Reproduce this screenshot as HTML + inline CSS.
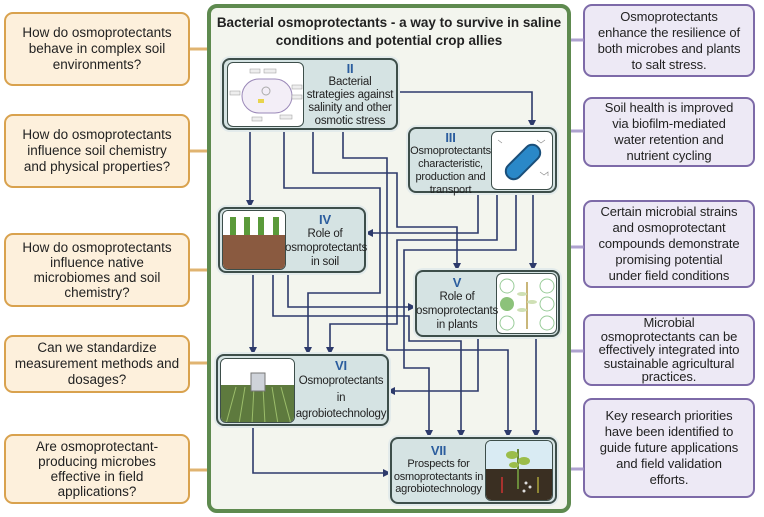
<!DOCTYPE html>
<html><head><meta charset="utf-8">
<style>
*{margin:0;padding:0;box-sizing:border-box}
body{width:764px;height:517px;background:#fff;position:relative;overflow:hidden;font-family:"Liberation Sans",Arial,sans-serif;color:#222}
.a{position:absolute}
.q{position:absolute;left:4px;width:186px;background:#fdf0dc;border:2.5px solid #d9a24e;border-radius:9px;display:flex;align-items:center;justify-content:center;text-align:center;font-size:13.5px;line-height:16px;white-space:nowrap}
.r{position:absolute;left:583px;width:172px;background:#ede9f5;border:2.5px solid #7d6aa8;border-radius:9px;display:flex;align-items:center;justify-content:center;text-align:center;font-size:13px;line-height:16px;white-space:nowrap;letter-spacing:-0.1px}
.frame{position:absolute;left:207px;top:4px;width:364px;height:509px;border:4px solid #5e8a4f;border-radius:10px;background:#f3f5ee}
.b{position:absolute;background:#d5e3e3;border:2.5px solid #3d4e4a;border-radius:8px;box-shadow:0 0 0 2px #e3ebeb}
.im{position:absolute;background:#fff;border:1.5px solid #3d4e4a;border-radius:6px;overflow:hidden}
.t{position:absolute;text-align:center;font-size:11.5px;line-height:13px;color:#222;letter-spacing:-0.2px;white-space:nowrap}
.t b{color:#2b5d9e;font-size:13px;display:block;line-height:15px}
</style></head><body>
<div class="q" style="top:12px;height:74px">How do osmoprotectants<br>behave in complex soil<br>environments?</div>
<div class="q" style="top:114px;height:74px">How do osmoprotectants<br>influence soil chemistry<br>and physical properties?</div>
<div class="q" style="top:233px;height:74px;line-height:15px">How do osmoprotectants<br>influence native<br>microbiomes and soil<br>chemistry?</div>
<div class="q" style="top:335px;height:58px">Can we standardize<br>measurement methods and<br>dosages?</div>
<div class="q" style="top:434px;height:70px;line-height:15px">Are osmoprotectant-<br>producing microbes<br>effective in field<br>applications?</div>

<div class="r" style="top:4px;height:73px">Osmoprotectants<br>enhance the resilience of<br>both microbes and plants<br>to salt stress.</div>
<div class="r" style="top:97px;height:70px">Soil health is improved<br>via biofilm-mediated<br>water retention and<br>nutrient cycling</div>
<div class="r" style="top:200px;height:88px">Certain microbial strains<br>and osmoprotectant<br>compounds demonstrate<br>promising potential<br>under field conditions</div>
<div class="r" style="top:314px;height:72px;line-height:13.5px">Microbial<br>osmoprotectants can be<br>effectively integrated into<br>sustainable agricultural<br>practices.</div>
<div class="r" style="top:398px;height:100px">Key research priorities<br>have been identified to<br>guide future applications<br>and field validation<br>efforts.</div>

<svg class="a" style="left:0;top:0" width="764" height="517">
<g stroke-width="3" opacity="0.8">
<line x1="190" y1="49" x2="209" y2="49" stroke="#d9a24e"/>
<line x1="190" y1="151" x2="209" y2="151" stroke="#d9a24e"/>
<line x1="190" y1="270" x2="209" y2="270" stroke="#d9a24e"/>
<line x1="190" y1="363" x2="209" y2="363" stroke="#d9a24e"/>
<line x1="190" y1="470" x2="209" y2="470" stroke="#d9a24e"/>
<line x1="569" y1="40" x2="584" y2="40" stroke="#9b8cc4"/>
<line x1="569" y1="131" x2="584" y2="131" stroke="#9b8cc4"/>
<line x1="569" y1="247" x2="584" y2="247" stroke="#9b8cc4"/>
<line x1="569" y1="351" x2="584" y2="351" stroke="#9b8cc4"/>
<line x1="569" y1="469" x2="584" y2="469" stroke="#9b8cc4"/>
</g></svg>

<div class="frame"></div>
<div class="a" style="left:211px;top:14px;width:356px;text-align:center;font-weight:bold;font-size:13.5px;line-height:18px">Bacterial osmoprotectants - a way to survive in saline<br>conditions and potential crop allies</div>

<svg class="a" style="left:0;top:0" width="764" height="517">
<defs><marker id="ar" markerWidth="8" markerHeight="8" refX="6" refY="4" orient="auto" markerUnits="userSpaceOnUse"><path d="M0,0 L8,4 L0,8 z" fill="#2d3a6b"/></marker></defs>
<g fill="none" stroke="#2d3a6b" stroke-width="1.6" marker-end="url(#ar)">
<path d="M397,92 H532 V126"/>
<path d="M250,130 V206"/>
<path d="M284,130 V188 H380 V293 H308 V353"/>
<path d="M313,130 V173 H397 V227 H457 V269"/>
<path d="M343,130 V158 H387 V350 H508 V436"/>
<path d="M478,193 V233 H367"/>
<path d="M497,193 V240 H397 V324 H330 V353"/>
<path d="M516,193 V250 H404 V368 H429 V436"/>
<path d="M533,193 V269"/>
<path d="M288,273 V307 H414"/>
<path d="M273,273 V316 H409 V341 H461 V436"/>
<path d="M253,273 V353"/>
<path d="M478,337 V391 H389"/>
<path d="M536,337 V436"/>
<path d="M253,426 V473 H389"/>
</g></svg>

<!-- II -->
<div class="b" style="left:222px;top:58px;width:176px;height:72px"></div>
<div class="im" style="left:227px;top:62px;width:77px;height:65px"><svg width="77" height="65"><rect x="14" y="16" width="50" height="34" rx="17" fill="#f3eef7" stroke="#9a88b8"/><circle cx="38" cy="28" r="4" fill="none" stroke="#aaa"/><rect x="30" y="36" width="6" height="4" fill="#e8d44d"/><g fill="#eee" stroke="#999" stroke-width=".5"><rect x="22" y="6" width="10" height="4"/><rect x="36" y="6" width="12" height="4"/><rect x="64" y="22" width="10" height="4"/><rect x="64" y="32" width="10" height="4"/><rect x="2" y="28" width="10" height="4"/><rect x="24" y="54" width="10" height="4"/><rect x="52" y="52" width="12" height="4"/></g></svg></div>
<div class="t" style="left:303px;top:61px;width:94px"><b>II</b>Bacterial<br>strategies against<br>salinity and other<br>osmotic stress</div>

<!-- III -->
<div class="b" style="left:408px;top:127px;width:149px;height:66px"></div>
<div class="im" style="left:491px;top:131px;width:62px;height:59px"><svg width="62" height="59"><g transform="rotate(-45 31 30)"><rect x="10" y="22" width="42" height="16" rx="8" fill="#2a88c8" stroke="#1a4f7a" stroke-width="2"/></g><g fill="none" stroke="#888" stroke-width=".6"><path d="M45,8 l4,3 l4,-3"/><path d="M48,40 l4,3 l4,-3 l0,4"/><path d="M6,8 l4,3"/></g></svg></div>
<div class="t" style="left:409px;top:130px;width:83px;font-size:11px"><b>III</b>Osmoprotectants<br>characteristic,<br>production and<br>transport</div>

<!-- IV -->
<div class="b" style="left:218px;top:207px;width:148px;height:66px"></div>
<div class="im" style="left:222px;top:210px;width:64px;height:60px"><svg width="64" height="60"><rect y="0" width="64" height="24" fill="#fff"/><rect y="24" width="64" height="36" fill="#8a5a40"/><g fill="#5a9a3a"><rect x="7" y="6" width="6" height="18"/><rect x="21" y="6" width="6" height="18"/><rect x="35" y="6" width="6" height="18"/><rect x="50" y="6" width="6" height="18"/></g></svg></div>
<div class="t" style="left:285px;top:212px;width:80px;line-height:14px"><b>IV</b>Role of<br>osmoprotectants<br>in soil</div>

<!-- V -->
<div class="b" style="left:415px;top:270px;width:145px;height:67px"></div>
<div class="im" style="left:496px;top:273px;width:61px;height:61px"><svg width="61" height="61"><g fill="none" stroke="#9c9" ><circle cx="10" cy="12" r="7"/><circle cx="50" cy="12" r="7"/><circle cx="50" cy="30" r="7"/><circle cx="50" cy="49" r="7"/><circle cx="10" cy="49" r="7"/></g><circle cx="10" cy="30" r="7" fill="#8cc27a"/><path d="M30,8 V55" stroke="#c9b77a" stroke-width="2"/><g fill="#cfe0b5"><ellipse cx="25" cy="20" rx="5" ry="2"/><ellipse cx="35" cy="28" rx="5" ry="2"/><ellipse cx="25" cy="36" rx="5" ry="2"/></g></svg></div>
<div class="t" style="left:416px;top:275px;width:82px;line-height:14px"><b>V</b>Role of<br>osmoprotectants<br>in plants</div>

<!-- VI -->
<div class="b" style="left:216px;top:354px;width:173px;height:72px"></div>
<div class="im" style="left:220px;top:358px;width:75px;height:65px"><svg width="75" height="65"><rect width="75" height="26" fill="#fff"/><rect y="26" width="75" height="39" fill="#5e7a3e"/><g stroke="#9bbd6a" stroke-width="1"><path d="M5,65 L15,28 M18,65 L24,28 M31,65 L33,28 M44,65 L42,28 M57,65 L51,28 M70,65 L60,28"/></g><rect x="30" y="14" width="14" height="18" fill="#cfd3da" stroke="#777"/></svg></div>
<div class="t" style="left:294px;top:358px;width:94px;line-height:16.5px;font-size:11.5px"><b>VI</b>Osmoprotectants<br>in<br>agrobiotechnology</div>

<!-- VII -->
<div class="b" style="left:390px;top:437px;width:167px;height:67px"></div>
<div class="im" style="left:485px;top:440px;width:68px;height:61px"><svg width="68" height="61"><rect width="68" height="28" fill="#d9ebf3"/><rect y="28" width="68" height="33" fill="#3a2f22"/><path d="M32,8 V48" stroke="#6a8a3a" stroke-width="2"/><g fill="#9bbd4a"><ellipse cx="26" cy="14" rx="6" ry="4"/><ellipse cx="38" cy="20" rx="6" ry="4"/><ellipse cx="28" cy="24" rx="5" ry="3"/></g><path d="M16,36 V52" stroke="#c33" stroke-width="1.5"/><path d="M52,52 V36" stroke="#a9a33a" stroke-width="1.5"/><g fill="#ddd"><circle cx="40" cy="42" r="1.5"/><circle cx="44" cy="46" r="1.5"/><circle cx="38" cy="50" r="1.5"/></g></svg></div>
<div class="t" style="left:390px;top:443px;width:97px;font-size:11px;line-height:12.5px"><b>VII</b>Prospects for<br>osmoprotectants in<br>agrobiotechnology</div>
</body></html>
